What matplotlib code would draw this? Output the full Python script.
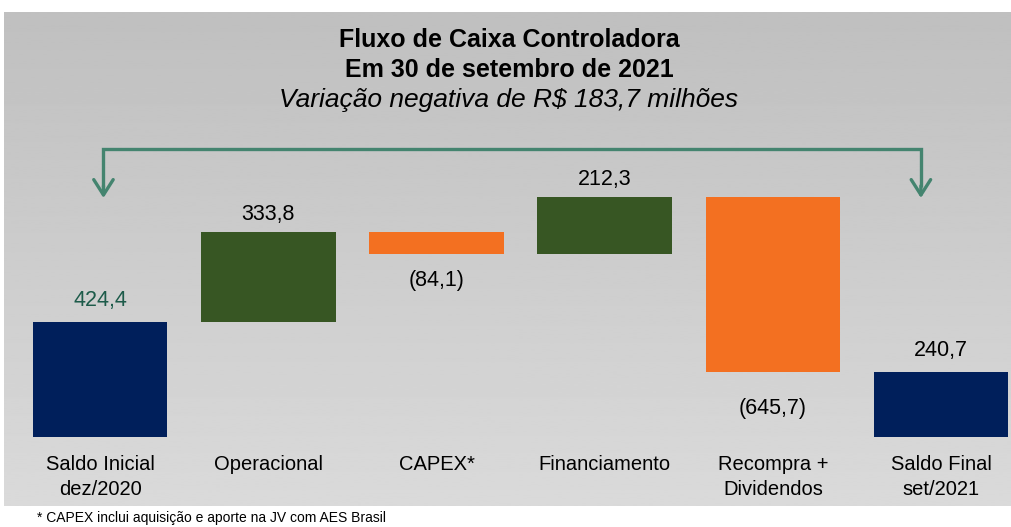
import numpy as np
import matplotlib
matplotlib.use('Agg')
import matplotlib.pyplot as plt

plt.rcParams['font.family'] = ['Liberation Sans', 'DejaVu Sans']

categories = ['Saldo Inicial\ndez/2020', 'Operacional', 'CAPEX*', 'Financiamento',
              'Recompra +\nDividendos', 'Saldo Final\nset/2021']
values = [424.4, 333.8, -84.1, 212.3, -645.7, 240.7]
kinds = ['total', 'delta', 'delta', 'delta', 'delta', 'total']
value_labels = ['424,4', '333,8', '(84,1)', '212,3', '(645,7)', '240,7']

navy = '#001f5b'
green = '#375623'
orange = '#f37021'
teal = '#44846f'

W, H = 1011, 527
fig = plt.figure(figsize=(W / 100, H / 100), dpi=100)
fig.patch.set_facecolor('white')

# gradient gray panel behind everything
bg = fig.add_axes([0, 0, 1, 1])
bg.set_xlim(0, W)
bg.set_ylim(H, 0)
bg.axis('off')
grad = np.linspace(0.75, 0.855, 256).reshape(-1, 1)
bg.imshow(grad, cmap='gray', vmin=0, vmax=1, aspect='auto',
          extent=[4, W, 506, 12], zorder=0)

# main waterfall axes, in pixel geometry
step = 168.2
left_px, base_px = 16, 437
scale = 0.271  # px per unit
top_px = 140
ax = fig.add_axes([left_px / W, (H - base_px) / H, (W - left_px) / W, (base_px - top_px) / H])
ax.patch.set_alpha(0)
ax.set_xlim(-0.5, -0.5 + (W - left_px) / step)
ax.set_ylim(0, (base_px - top_px) / scale)
for s in ax.spines.values():
    s.set_visible(False)
ax.set_yticks([])

x = np.arange(len(values))
bottoms = []
heights = []
colors = []
running = 0.0
for v, k in zip(values, kinds):
    if k == 'total':
        bottoms.append(0)
        heights.append(v)
        colors.append(navy)
        running = v
    else:
        lo = running + min(v, 0)
        bottoms.append(lo)
        heights.append(abs(v))
        colors.append(green if v > 0 else orange)
        running += v
ax.bar(x, heights, bottom=bottoms, width=0.8, color=colors, zorder=2)

# label offsets in points (positive above bar top, negative below bar bottom)
offsets = [8, 5, -11, 5, -19, 8]
for i, (v, lab) in enumerate(zip(values, value_labels)):
    col = '#1d5b4a' if i == 0 else 'black'
    if v >= 0:
        y = bottoms[i] + heights[i]
        ax.annotate(lab, (x[i], y), xytext=(0, offsets[i]), textcoords='offset points',
                    ha='center', va='bottom', fontsize=15.5, color=col)
    else:
        y = bottoms[i]
        ax.annotate(lab, (x[i], y), xytext=(0, offsets[i]), textcoords='offset points',
                    ha='center', va='top', fontsize=15.5, color=col)

ax.set_xticks(x)
ax.set_xticklabels(categories, fontsize=14.5, linespacing=1.38)
ax.tick_params(axis='x', length=0, pad=13)

# bracket with arrows from initial to final balance
yline = 288 / scale
ytip = 239 / scale
xl, xr = 0.02, 4.88
ax.plot([xl, xl, xr, xr], [ytip + 40, yline, yline, ytip + 40], color=teal, lw=2.4,
        clip_on=False, solid_capstyle='butt', solid_joinstyle='miter')
for xa in (xl, xr):
    ax.annotate('', xy=(xa, ytip), xytext=(xa, ytip + 45),
                arrowprops=dict(arrowstyle='->,head_length=1.1,head_width=0.7',
                                color=teal, lw=2.4, shrinkA=0, shrinkB=0),
                annotation_clip=False)

fig.text(509 / W, 1 - 40 / H, 'Fluxo de Caixa Controladora', ha='center', va='center',
         fontsize=18, fontweight='bold')
fig.text(509 / W, 1 - 70 / H, 'Em 30 de setembro de 2021', ha='center', va='center',
         fontsize=18, fontweight='bold')
fig.text(509 / W, 1 - 100 / H, 'Variação negativa de R$ 183,7 milhões', ha='center',
         va='center', fontsize=19, fontstyle='italic')
fig.text(37 / W, 1 - 518 / H, '* CAPEX inclui aquisição e aporte na JV com AES Brasil',
         ha='left', va='center', fontsize=10)

fig.savefig('out.png', dpi=100)
